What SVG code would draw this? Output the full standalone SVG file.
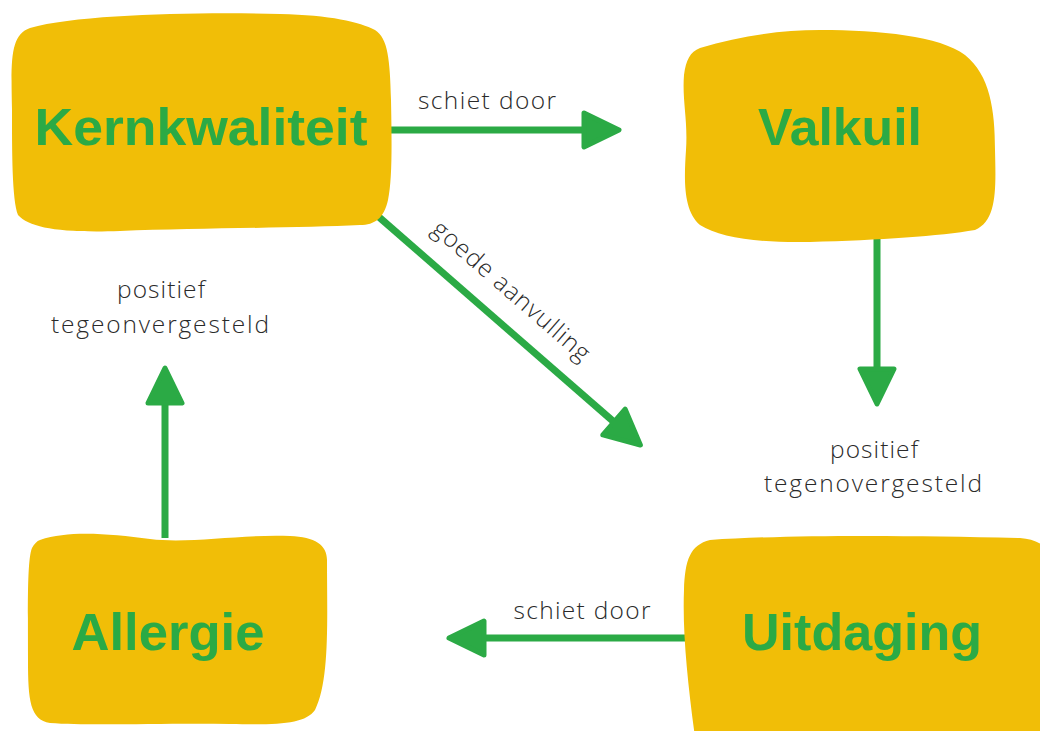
<svg xmlns="http://www.w3.org/2000/svg" width="1040" height="731" viewBox="0 0 1040 731">
<style>
.blob{fill:#F1BE07}
.title{font-family:"Liberation Sans","Open Sans",Arial,sans-serif;font-weight:bold;font-size:52px;fill:#2BAA45;text-anchor:middle}
.lbl{font-family:"Open Sans","Liberation Sans",Arial,sans-serif;font-weight:300;font-size:24.5px;fill:#2a2a2a;text-anchor:middle}
.conn{stroke:#2BAA45;stroke-width:7;fill:none}
.head{fill:#2BAA45;stroke:#2BAA45;stroke-width:5;stroke-linejoin:round}
</style>
<defs>
<marker id="arr" markerUnits="userSpaceOnUse" viewBox="-5 -25 50 50" markerWidth="50" markerHeight="50" refX="0" refY="0" orient="auto" overflow="visible">
<path class="head" d="M0,-17 L35,0 L0,17 Z"/>
</marker>
</defs>
<rect width="1040" height="731" fill="#ffffff"/>
<g id="connectors">
<line class="conn" x1="388" y1="130" x2="584" y2="130" marker-end="url(#arr)"/>
<line class="conn" x1="877" y1="236" x2="877" y2="369" marker-end="url(#arr)"/>
<line class="conn" x1="165" y1="538" x2="165" y2="403" marker-end="url(#arr)"/>
<line class="conn" x1="686" y1="638" x2="484" y2="638" marker-end="url(#arr)"/>
<line class="conn" x1="372" y1="211" x2="614" y2="422" marker-end="url(#arr)"/>
<text class="lbl" x="487" y="109" textLength="138" lengthAdjust="spacing">schiet door</text>
<text class="lbl" x="582" y="619" textLength="137" lengthAdjust="spacing">schiet door</text>
<text class="lbl" transform="translate(506,297) rotate(41)" textLength="200" lengthAdjust="spacing">goede aanvulling</text>
<text class="lbl" x="161" y="298" textLength="88" lengthAdjust="spacing">positief</text>
<text class="lbl" x="160" y="333" textLength="218" lengthAdjust="spacing">tegeonvergesteld</text>
<text class="lbl" x="874" y="458" textLength="88" lengthAdjust="spacing">positief</text>
<text class="lbl" x="873" y="492" textLength="218" lengthAdjust="spacing">tegenovergesteld</text>
</g>
<g id="kernkwaliteit">
<path class="blob" d="M30,28 C80,14 200,12 280,14 C330,15 360,22 375,30 C388,38 390,60 391,100 C392,150 392,180 388,200 C384,218 375,225 360,225 C300,228 200,228 120,231 C60,233 30,228 18,215 C12,200 12,150 12,110 C11,60 10,35 30,28 Z"/>
<text class="title" x="201" y="145" textLength="333" lengthAdjust="spacingAndGlyphs">Kernkwaliteit</text>
</g>
<g id="valkuil">
<path class="blob" d="M700,48 C740,36 780,30 820,30 C880,30 940,36 965,55 C990,75 995,110 995,150 C996,190 997,220 975,230 C940,236 880,240 810,242 C760,243 720,238 700,225 C683,210 684,180 686,150 C688,120 682,100 684,75 C686,60 690,52 700,48 Z"/>
<text class="title" x="840" y="145" textLength="164" lengthAdjust="spacingAndGlyphs">Valkuil</text>
</g>
<g id="allergie">
<path class="blob" d="M40,540 C70,530 110,534 150,539 C190,544 240,534 290,536 C315,537 327,545 327,560 C327,620 330,680 315,710 C305,724 280,725 230,724 C160,723 90,726 50,723 C30,720 28,700 28,660 C28,610 27,560 32,548 C34,544 37,541 40,540 Z"/>
<text class="title" x="168" y="650" textLength="193" lengthAdjust="spacingAndGlyphs">Allergie</text>
</g>
<g id="uitdaging">
<path class="blob" d="M710,540 C780,535 900,535 1020,538 C1050,540 1060,560 1060,600 L1060,760 L698,760 C690,700 682,640 684,590 C685,560 690,545 710,540 Z"/>
<text class="title" x="862" y="650" textLength="240" lengthAdjust="spacingAndGlyphs">Uitdaging</text>
</g>
</svg>
